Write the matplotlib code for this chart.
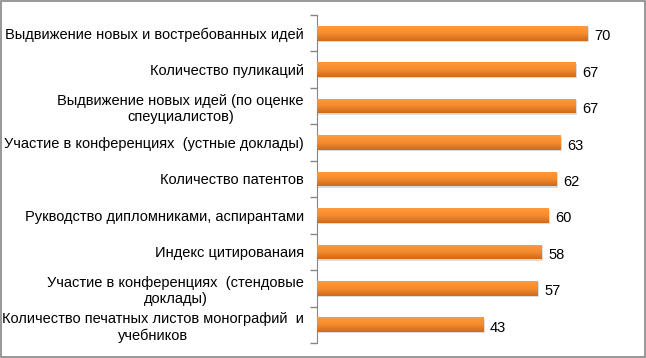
import numpy as np
import matplotlib.pyplot as plt
from matplotlib.patches import Rectangle
from matplotlib.colors import LinearSegmentedColormap

categories = [
    "Выдвижение новых и востребованных идей",
    "Количество пуликаций",
    "Выдвижение новых идей (по оценке\nспеуциалистов)",
    "Участие в конференциях  (устные доклады)",
    "Количество патентов",
    "Рукводство дипломниками, аспирантами",
    "Индекс цитированаия",
    "Участие в конференциях  (стендовые\nдоклады)",
    "Количество печатных листов монографий  и\nучебников",
]
values = [70, 67, 67, 63, 62, 60, 58, 57, 43]

plt.rcParams['font.family'] = ['Liberation Sans', 'DejaVu Sans']

fig = plt.figure(figsize=(6.46, 3.58), dpi=100)
ax = fig.add_axes([0.4907, 0.042, 0.4783, 0.916])

y = np.arange(len(categories))
bars = ax.barh(y, values, height=0.4, color='#F28A2E', zorder=2)

# vertical gradient on each bar (light on top), plus a soft shadow below
grad = np.linspace(0, 1, 64).reshape(-1, 1)
cmap = LinearSegmentedColormap.from_list('bar', ['#FF9A3C', '#F58B2C', '#CF6A1C'])
for b in bars:
    x0, y0 = b.get_x(), b.get_y()
    w, h = b.get_width(), b.get_height()
    sh = Rectangle((x0, y0 + 0.04), w + 0.4, h, color='#bbbbbb', alpha=0.5,
                   zorder=1, lw=0)
    ax.add_patch(sh)
    im = ax.imshow(grad, cmap=cmap, aspect='auto', extent=(x0, x0 + w, y0, y0 + h),
                   origin='lower', zorder=3)
    im.set_clip_path(b)

for yi, v in zip(y, values):
    ax.text(v + 1.8, yi + 0.04, str(v), va='center_baseline', ha='left',
            fontsize=10.5, color='#000000')

ax.set_xlim(0, 80)
ax.set_ylim(len(categories) - 0.5, -0.5)
ax.set_yticks(y)
ax.set_yticklabels(categories, fontsize=10.5, multialignment='center')
ax.tick_params(axis='y', length=0, pad=9.5)
ax.set_yticks(np.arange(-0.5, len(categories)), minor=True)
ax.tick_params(axis='y', which='minor', length=5, color='#868686', width=1)
ax.set_xticks([])
for s in ['top', 'right', 'bottom']:
    ax.spines[s].set_visible(False)
ax.spines['left'].set_color('#868686')

fig.patches.append(Rectangle((0.001, 0.002), 0.997, 0.995, transform=fig.transFigure,
                             fill=False, edgecolor='#868686', lw=1.2))

fig.savefig('out.png', dpi=100)
